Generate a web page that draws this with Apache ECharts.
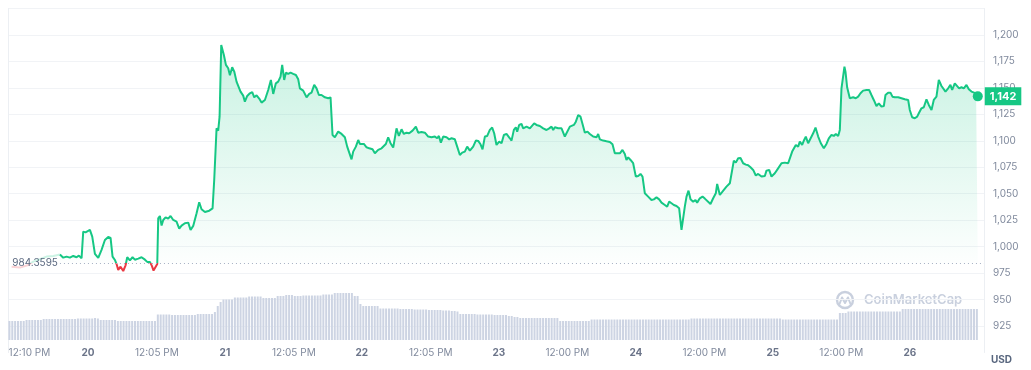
<!DOCTYPE html>
<html><head><meta charset="utf-8">
<script src="https://cdn.jsdelivr.net/npm/echarts@6/dist/echarts.min.js"></script>
<style>html,body{margin:0;padding:0;background:#fff}#c{width:1031px;height:370px}</style>
</head><body><div id="c"></div>
<script>
// ---- data (hours measured from day "20" 00:00) ----
const baseline = 984.3595;
const lastPrice = 1142;

const leadHours  = [-13.37, -11.91, -10.45, -9.58, -8.41, -7.24, -6.07, -4.9];
const leadPrices = [981.1, 980.2, 982.7, 985.9, 988.1, 990.6, 991.2, 992.5];

const priceHours = [
-4.9,-4.32,-3.74,-3.15,-2.57,-1.99,-1.58,-1.11,-0.82,-0.41,-0.06,0.35,0.76,1.23,1.81,2.39,2.98,3.56,3.97,4.32,
4.73,5.02,5.31,5.72,6.19,6.6,6.89,7.36,7.82,8.23,8.82,9.4,9.99,10.39,10.86,11.21,11.5,11.85,12.15,12.32,
12.61,12.91,13.2,13.61,14.07,14.48,14.95,15.53,16,16.41,16.99,17.58,17.99,18.45,19.04,19.5,19.91,20.5,21.26,21.84,
22.13,22.54,22.83,23.07,23.36,23.59,23.82,24.18,24.58,24.88,25.28,25.64,26.04,26.39,26.74,27.21,27.5,27.91,28.38,28.79,
29.14,29.55,30.01,30.42,31.01,31.59,32.06,32.47,32.93,33.34,33.75,34.04,34.39,34.69,35.09,35.5,35.97,36.44,36.85,37.14,
37.72,38.31,38.77,39.18,39.65,40.06,40.47,40.93,41.52,42.1,42.51,42.69,42.86,43.27,43.85,44.44,45.02,45.43,45.78,46.19,
46.48,46.95,47.36,47.65,47.94,48.35,48.82,49.29,49.87,50.28,50.86,51.45,51.74,52.2,52.61,53.02,53.49,54.07,54.48,54.95,
55.36,55.82,56.29,56.88,57.46,57.87,58.45,59.04,59.62,60.2,60.79,61.2,61.49,61.84,62.25,62.83,63.3,63.71,64.29,64.7,
65.17,65.58,66.04,66.45,66.92,67.5,67.97,68.38,68.79,69.14,69.55,69.96,70.42,70.83,71.18,71.59,72.06,72.47,72.88,73.34,
73.93,74.22,74.63,74.98,75.21,75.56,75.97,76.26,76.85,77.43,77.72,78.19,78.6,79.18,79.77,80.35,80.82,81.23,81.52,81.81,
82.39,82.98,83.56,83.85,84.44,85.14,85.49,85.9,86.31,86.66,87.07,87.53,87.94,88.53,88.82,89.11,89.4,89.69,90.28,90.86,
91.45,91.91,92.32,92.61,93.2,93.66,94.07,94.36,94.66,95.07,95.53,96,96.41,96.82,97.17,97.58,98.16,98.74,99.15,99.62,
100.09,100.5,101.08,101.49,101.84,102.25,102.66,103.12,103.59,104,104.29,104.58,104.88,105.23,105.58,106.04,106.45,106.74,107.21,107.68,
108.09,108.38,109.08,109.55,110.01,110.25,110.72,111.01,111.42,111.88,112.47,112.76,113.17,113.52,113.93,114.34,114.8,115.27,115.68,116.09,
116.56,117.02,117.43,118.02,118.6,118.89,119.36,119.77,120.35,120.93,121.52,122.1,122.69,122.98,123.39,123.68,124.03,124.44,124.73,125.14,
125.49,125.78,126.19,126.48,127.07,127.48,127.95,128.41,128.94,129.4,129.81,130.28,130.69,131.04,131.45,131.74,132.03,132.32,132.55,132.73,
133.02,133.49,134.07,134.54,134.95,135.36,135.82,136.41,136.88,137.28,137.69,138.16,138.57,139.04,139.45,139.74,140.2,140.61,140.96,141.37,
141.96,142.54,143.12,143.71,144,144.41,144.88,145.29,145.58,146.04,146.45,146.92,147.33,147.8,148.2,148.67,149.08,149.55,149.84,150.25,
150.72,151.12,151.42,151.88,152.18,152.64,153.05,153.46,153.93,154.34,154.8,155.27,155.62,155.91
];
const priceValues = [
992.5,989.6,990.6,989.6,991.2,990,991.5,989,1014.2,1013.5,1012.6,1015.8,1009.5,993.1,989.3,996.9,1006.3,1009.2,1008.2,990.6,
987.4,983.6,978,981.1,977,982.4,990,987.1,990,987.7,988.7,990,987.7,985.6,985.6,981.8,977.4,977.4,983.6,1026.8,
1029,1019.9,1025.2,1027.7,1026.5,1029,1025.2,1023.6,1017,1019.9,1022.1,1022.7,1015.8,1019.6,1031.6,1041.9,1035.3,1032.8,1034,1036.2,
1063,1111.8,1109.6,1122.8,1190.6,1189,1181.1,1171.7,1168.5,1161.9,1169.5,1165.4,1155.9,1157.5,1146.5,1142.7,1137,1142.4,1144.9,1146.1,
1141.1,1143,1139.9,1136.1,1138.6,1148,1157.5,1144.3,1154.3,1155.9,1160.6,1171.7,1157.5,1164.4,1163.2,1164.4,1163.2,1162.2,1158.1,1149.6,
1147.4,1141.1,1144.3,1145.5,1152.8,1149.6,1143.3,1143.3,1141.1,1140.2,1141.1,1122.8,1105.5,1103.3,1108.7,1106.5,1103.3,1094.5,1096.1,1082.5,
1089.8,1094.5,1100.8,1097,1096.1,1097,1093.9,1092.9,1092,1088.2,1091.4,1092.9,1091.4,1097,1103.3,1097.7,1093.6,1111.8,1104.6,1110.9,
1106.5,1107.7,1107.1,1109.6,1113.4,1107.7,1108.4,1107.7,1104,1103.3,1104,1102.4,1104.6,1098.3,1104,1103.3,1101.4,1102.4,1101.4,1094.5,
1086.6,1088.8,1089.8,1094.5,1090.7,1094.5,1100.2,1099.9,1096.7,1092,1104,1104.6,1110.3,1112.5,1107.1,1096.1,1099.2,1097.7,1105.5,1106.5,
1102.4,1100.2,1110.3,1112.8,1108.7,1115,1115.9,1111.8,1113.4,1111.8,1110.2,1116.5,1115,1114,1111.8,1110.2,1111.8,1113.4,1110.2,1112.8,
1111.8,1111.8,1104,1105.5,1113.4,1115,1118.1,1124.4,1122.8,1115.9,1107.7,1108.7,1106.5,1104,1105.5,1103.3,1106.5,1101.4,1100.2,1099.5,
1098.9,1096.7,1088.2,1089.8,1088.2,1091.4,1087.6,1081.9,1084.4,1081.9,1078.8,1066.2,1066.8,1068.7,1066.2,1050.4,1047.3,1044.1,1044.7,1046.6,
1044.7,1041.6,1039.4,1037.8,1042.5,1041,1039.4,1038.4,1036.2,1015.8,1026.8,1037.8,1047.3,1052.9,1044.7,1042.5,1044.1,1041.6,1045.7,1047.3,
1045.4,1045.7,1040.3,1045.7,1050.4,1059.2,1048.8,1047.3,1053.6,1056.7,1059.9,1060.5,1081.3,1079.4,1083.5,1083.8,1078.8,1077.5,1076.9,1075,
1072.5,1067.2,1068.7,1066.2,1066.8,1071.8,1072.5,1066.2,1069.3,1074,1078.8,1079.4,1078.8,1080.3,1089.8,1089.8,1096.1,1094.5,1099.2,1096.1,
1100.8,1104,1097.7,1096.1,1107.1,1112.5,1104,1097.7,1092.9,1097,1102.4,1105.5,1104.6,1106.5,1104.6,1110.3,1149.6,1151.2,1170.1,1165.4,
1150.6,1140.2,1141.1,1140.2,1141.7,1144.9,1147.4,1148,1148,1143.3,1138.6,1132.9,1135.4,1132.3,1132.9,1143.3,1145.5,1145.5,1141.7,1141.1,
1141.1,1140.2,1139.2,1138.6,1129.1,1122.2,1121.3,1122.8,1126,1130.7,1131.7,1139.2,1133.9,1129.1,1138.6,1141.7,1157.5,1151.8,1152.8,1146.5,
1149.6,1152.8,1148,1154.3,1155.9,1149.6,1150.6,1149.6,1152.8,1148.7,1146.5,1145.5,1143.3,1142
];

// volume bars, one every half hour starting at volStartHour
const volStartHour = -13.75;
const volStepHour = 0.5;
const volumes = [
19,19,19,19,19,19,20,20,20,20,20,20,
21,21,21,21,21,21,21,21,21,21,21,21,
21.5,21.5,21.5,21.5,21.5,21.5,22,21.5,
20,20,20,20,20,20,
19,19,19,19,19,19,19,19,19,19,19,19,19,19,
25.5,25.5,25.5,25.5,25.5,
25,25,25,25,25,25,25,25,25,
26,26,26,26,26,26,
28,34,38,
40.5,40.5,40.5,40.5,
42.5,42.5,42.5,42.5,42.5,
43.5,43.5,43.5,43.5,43.5,
42,42,42,42,42,
44,44,44,
45,45,45,
44,44,44,
44.5,44.5,44.5,44.5,44.5,44.5,44.5,
45.5,45.5,45.5,45.5,
47,47,47,47,47,47,47,
44,44,36,
34,34,34,34,34,34,
31.5,31.5,31.5,31.5,31.5,31.5,31.5,
31,31,31,31,31,30.5,30.5,30.5,30.5,30.5,30,30,30,30,30,29.5,29.5,29.5,29,29,28.5,
26,26,26,26,26,26,25.5,25.5,25.5,25.5,25.5,25.5,25,25,25,25,25,24,24,23,23,
22,22,22,22,22,22,22,22,22,22,22,22,22,22,
19,19,19,19,19,19,19,19,19,19,19,
20.5,20.5,20.5,20.5,20.5,20.5,20.5,20.5,20.5,20.5,20.5,20.5,20.5,20.5,20.5,20.5,20.5,20.5,20.5,20.5,20.5,20.5,20.5,20.5,20.5,20.5,20.5,20.5,20.5,20.5,20.5,20.5,20.5,20.5,20.5,
21.5,21.5,21.5,21.5,21.5,21.5,21.5,21.5,21.5,21.5,21.5,21.5,21.5,21.5,21.5,21.5,21.5,21.5,21.5,21.5,21.5,21.5,21.5,21.5,21.5,21.5,21.5,21.5,21.5,21.5,21.5,21.5,
20.5,20.5,20.5,20.5,20.5,20.5,20.5,20.5,20.5,20.5,20.5,20.5,20.5,20.5,20.5,20.5,20.5,20.5,20.5,20.5,
27,27,27,
28.5,28.5,28.5,28.5,28.5,28.5,28.5,28.5,28.5,28.5,28.5,28.5,28.5,28.5,28.5,28.5,28.5,28.5,28.5,
31,31,31,31,31,31,31,31,31,31,31,31,31,31,31,31,31,31,31,31,31,31,31,31,31,31,31
];

const xTickHours  = [-11.83, 0, 12.08, 24, 36.08, 48, 60.08, 72, 84, 96, 108, 120, 132, 144];
const xTickLabels = ['12:10 PM','20','12:05 PM','21','12:05 PM','22','12:05 PM','23','12:00 PM','24','12:00 PM','25','12:00 PM','26'];

const priceMin = 900, priceMax = 1225, priceStep = 25;
const hourMin = -14, hourMax = 157;

// ---- chart ----
const FONT = 'Inter, "Noto Sans", sans-serif';
const GREEN = '#16c784', RED = '#ea3943';
const leadData = leadHours.map((h, i) => [h, leadPrices[i]]);
const priceData = priceHours.map((h, i) => [h, priceValues[i]]);
const volData = volumes.map((v, i) => [volStartHour + i * volStepHour, v]);
const last = priceData[priceData.length - 1];

const chart = echarts.init(document.getElementById('c'));
chart.setOption({
  animation: false,
  backgroundColor: '#ffffff',
  grid: [
    { left: 8, right: 47, top: 8.5, bottom: 17.5 },
    { left: 8, right: 47, top: 280, bottom: 30 }
  ],
  xAxis: [
    { type: 'value', gridIndex: 0, min: hourMin, max: hourMax, show: false },
    {
      type: 'value', gridIndex: 1, min: hourMin, max: hourMax,
      axisLine: { show: false }, axisTick: { show: false }, splitLine: { show: false },
      axisLabel: {
        customValues: xTickHours,
        margin: 8, fontFamily: FONT, fontSize: 10, color: '#808a9d',
        formatter: function (v) {
          const i = xTickHours.findIndex(t => Math.abs(t - v) < 0.01);
          if (i < 0) return '';
          const s = xTickLabels[i];
          if (i === 0) return '{first|' + s + '}';
          return /^\d+$/.test(s) ? '{day|' + s + '}' : '{time|' + s + '}';
        },
        rich: {
          first: { fontFamily: FONT, fontSize: 10, color: '#808a9d', padding: [0, 0, 0, 18] },
          time: { fontFamily: FONT, fontSize: 10, color: '#808a9d' },
          day: { fontFamily: FONT, fontSize: 10, color: '#6b7489', fontWeight: 'bold' }
        }
      }
    }
  ],
  yAxis: [
    {
      type: 'value', gridIndex: 0, position: 'right', min: priceMin, max: priceMax, interval: priceStep,
      axisLine: { show: true, onZero: false, lineStyle: { color: '#eceff3' } },
      axisTick: { show: false },
      splitLine: { show: true, showMinLine: false, lineStyle: { color: '#f1f3f6' } },
      axisLabel: {
        margin: 9, color: '#808a9d', fontSize: 10, fontFamily: FONT,
        formatter: v => (v === priceMin || v === priceMax) ? '' : v.toLocaleString('en-US')
      }
    },
    {
      type: 'value', gridIndex: 0, position: 'left', min: priceMin, max: priceMax,
      axisLine: { show: true, onZero: false, lineStyle: { color: '#eceff3' } },
      axisTick: { show: false }, axisLabel: { show: false }, splitLine: { show: false }
    },
    { type: 'value', gridIndex: 1, min: 0, max: 60, show: false }
  ],
  visualMap: {
    type: 'piecewise', show: false, dimension: 1, seriesIndex: [0, 1],
    pieces: [
      { min: priceMin - 100, max: baseline, color: RED },
      { min: baseline, max: priceMax + 100, color: GREEN }
    ]
  },
  series: [
    {
      type: 'line', xAxisIndex: 0, yAxisIndex: 0, data: leadData, showSymbol: false, silent: true,
      lineStyle: { width: 2, opacity: 0.22 }, z: 3
    },
    {
      type: 'line', xAxisIndex: 0, yAxisIndex: 0, data: priceData, showSymbol: false, silent: true,
      lineStyle: { width: 2 }, z: 4,
      areaStyle: {
        origin: baseline,
        color: new echarts.graphic.LinearGradient(0, 0, 0, 1, [
          { offset: 0, color: 'rgba(22,199,132,0.34)' },
          { offset: 1, color: 'rgba(22,199,132,0.0)' }
        ])
      },
      markLine: {
        silent: true, symbol: ['none', 'none'], animation: false,
        lineStyle: { color: '#a6b0c3', type: [1, 3], width: 1 },
        label: { show: true, position: 'start', distance: 2, formatter: String(baseline), color: '#58667e', fontSize: 10, fontFamily: FONT },
        data: [[{ coord: [priceHours[0], baseline] }, { coord: [hourMax, baseline] }]]
      },
      markPoint: {
        silent: true, symbol: 'circle', symbolSize: 10, animation: false,
        itemStyle: { color: GREEN },
        label: {
          show: true, position: 'right', distance: 2,
          formatter: lastPrice.toLocaleString('en-US'),
          backgroundColor: GREEN, color: '#ffffff', fontWeight: 'bold', fontSize: 11, fontFamily: FONT,
          padding: [4, 5, 3, 5]
        },
        data: [{ coord: last, value: lastPrice }]
      }
    },
    {
      type: 'bar', xAxisIndex: 1, yAxisIndex: 2, data: volData, barWidth: 2, silent: true,
      itemStyle: { color: '#cdd4e3' }
    }
  ],
  graphic: [
    {
      type: 'group', silent: true, z: 10,
      children: [
        { type: 'circle', shape: { cx: 845, cy: 300, r: 8 }, style: { fill: 'none', stroke: '#c9d0de', lineWidth: 2.4 } },
        { type: 'polyline', shape: { points: [[839.5, 304], [842, 297.5], [845, 303], [848, 297.5], [850.5, 304]] }, style: { fill: 'none', stroke: '#c9d0de', lineWidth: 2, lineJoin: 'round', lineCap: 'round' } },
        { type: 'text', style: { text: 'CoinMarketCap', x: 864, y: 300.5, fill: '#c9d0de', font: '600 13px Inter, sans-serif', verticalAlign: 'middle', textAlign: 'left' } }
      ]
    },
    { type: 'text', silent: true, style: { text: 'USD', x: 991, y: 360, fill: '#58667e', font: 'bold 10px Inter, sans-serif', verticalAlign: 'middle', textAlign: 'left' } }
  ]
});
</script>
</body></html>
